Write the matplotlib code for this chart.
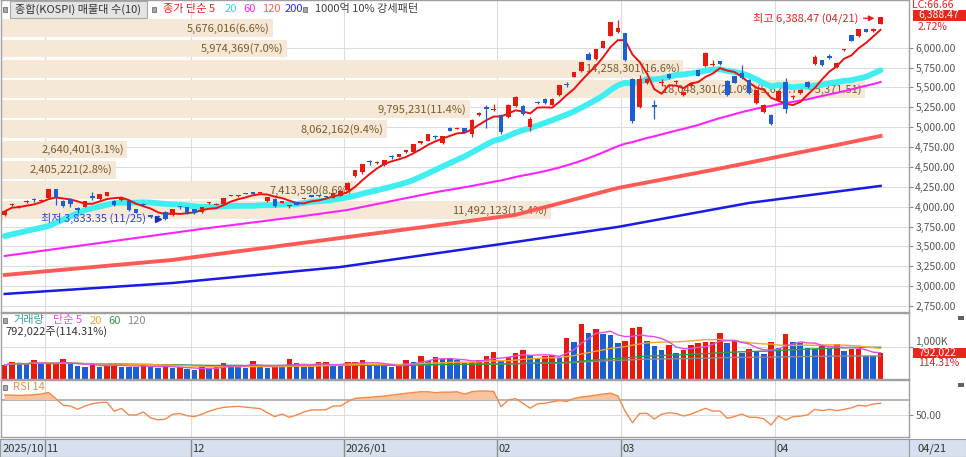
import numpy as np
import pandas as pd
import matplotlib
matplotlib.use("Agg")
import matplotlib.pyplot as plt
from matplotlib.patches import Rectangle

plt.rcParams['font.family'] = ['Noto Sans CJK KR', 'DejaVu Sans']

# ---------------- data ----------------
month_labels = ["2025/10", "11", "12", "2026/01", "02", "03", "04"]
month_start = [0, 6, 26, 47, 68, 85, 106]
last_date = "04/21"

opens = [3890, 4020, 4000, 4060, 4095, 4075, 4115, 4218, 4068, 4100,
         3980, 3995, 4125, 4092, 4135, 4068, 4080, 4068, 3965, 4035,
         3892, 3885, 3930, 3892, 4000, 3992, 3965, 3932, 4040, 4025,
         4030, 4138, 4130, 4170, 4170, 4172, 4070, 4100, 4045, 4003,
         4060, 4100, 4132, 4140, 4125, 4110, 4140, 4205, 4382, 4436,
         4565, 4548, 4521, 4628, 4630, 4685, 4690, 4795, 4828, 4880,
         4795, 4995, 4982, 4990, 4911, 5150, 5245, 5210, 5151, 5130,
         5268, 5268, 5005, 5312, 5360, 5285, 5403, 5530, 5633, 5705,
         5915, 5856, 5999, 6150, 6192, 6184, 5600, 5248, 5550, 5270,
         5555, 5675, 5568, 5403, 5516, 5718, 5768, 5778, 5831, 5585,
         5642, 5680, 5592, 5300, 5192, 5150, 5340, 5570, 5375, 5424,
         5570, 5793, 5844, 5894, 5752, 5968, 6159, 6146, 6230, 6215,
         6300]
highs = [3955, 4045, 4020, 4080, 4115, 4095, 4225, 4225, 4080, 4110,
         4000, 4075, 4185, 4160, 4190, 4080, 4110, 4075, 3975, 4050,
         3900, 3890, 3940, 3970, 4010, 4000, 3975, 4000, 4055, 4040,
         4110, 4150, 4145, 4178, 4178, 4185, 4125, 4110, 4075, 4020,
         4065, 4110, 4140, 4148, 4130, 4175, 4205, 4305, 4462, 4540,
         4590, 4575, 4590, 4650, 4665, 4715, 4790, 4832, 4912, 4905,
         4892, 5000, 5000, 4995, 5100, 5185, 5277, 5290, 5160, 5290,
         5390, 5275, 5125, 5330, 5365, 5365, 5535, 5565, 5692, 5820,
         5950, 5982, 6090, 6325, 6345, 6190, 5620, 5660, 5625, 5340,
         5600, 5680, 5590, 5450, 5565, 5725, 5940, 5840, 5835, 5590,
         5648, 5780, 5600, 5470, 5290, 5160, 5455, 5620, 5400, 5480,
         5580, 5910, 5850, 5920, 5815, 5985, 6165, 6235, 6235, 6245,
         6388.47]
lows = [3880, 4010, 3985, 4050, 4060, 4070, 4110, 4020, 3990, 4000,
        3915, 3990, 4080, 4085, 4130, 4010, 4075, 3950, 3915, 4010,
        3860, 3855, 3833.35, 3880, 3975, 3910, 3905, 3925, 4035, 4020,
        4025, 4130, 4125, 4158, 4160, 4168, 4065, 4000, 4040, 3985,
        4015, 4095, 4125, 4128, 4110, 4105, 4135, 4200, 4375, 4410,
        4530, 4540, 4515, 4600, 4625, 4680, 4685, 4790, 4822, 4850,
        4790, 4950, 4975, 4935, 4880, 5145, 4985, 5200, 4920, 5120,
        5260, 5150, 4950, 5295, 5295, 5280, 5398, 5500, 5628, 5700,
        5840, 5850, 5994, 6145, 6185, 5830, 5050, 5240, 5540, 5100,
        5520, 5610, 5540, 5398, 5510, 5640, 5760, 5770, 5785, 5395,
        5550, 5600, 5420, 5290, 5180, 5030, 5330, 5180, 5360, 5420,
        5495, 5788, 5775, 5860, 5748, 5955, 6080, 6140, 6195, 6200,
        6295]
closes = [3940, 4035, 4008, 4070, 4088, 4085, 4218, 4118, 4005, 4030,
          3962, 4068, 4115, 4155, 4180, 4018, 4105, 3955, 3925, 4025,
          3870, 3868, 3846.07, 3965, 3990, 3920, 3920, 3992, 4048, 4032,
          4105, 4145, 4138, 4162, 4165, 4178, 4120, 4005, 4070, 4008,
          4020, 4105, 4128, 4132, 4118, 4170, 4200, 4300, 4458, 4533,
          4560, 4552, 4584, 4622, 4660, 4710, 4785, 4828, 4908, 4875,
          4886, 4955, 4988, 4940, 5096, 5180, 5235, 5220, 4940, 5285,
          5381, 5160, 5100, 5308, 5300, 5360, 5529, 5527, 5688, 5815,
          5844, 5978, 6083, 6320, 6251, 5844, 5080, 5600, 5605, 5260,
          5560, 5615, 5572, 5445, 5558, 5646, 5936, 5784, 5790, 5403,
          5558, 5625, 5428, 5466, 5277, 5046, 5450, 5235, 5382, 5474,
          5500, 5878, 5781, 5865, 5810, 5972, 6087, 6230, 6200, 6219.3,
          6388.47]
# volume in thousand shares
volumes_k = [422, 505, 474, 443, 568, 443, 450, 455, 599, 443,
             391, 370, 453, 370, 422, 443, 372, 365, 360, 422,
             370, 318, 422, 318, 349, 286, 266, 349, 318, 349,
             495, 401, 398, 318, 547, 401, 318, 422, 349, 599,
             474, 370, 365, 505, 516, 401, 398, 526, 530, 578,
             422, 401, 398, 370, 391, 578, 526, 703, 557, 682,
             599, 595, 578, 474, 526, 578, 703, 839, 547, 661,
             787, 891, 734, 599, 703, 724, 682, 1255, 1151, 1693,
             1432, 1536, 1380, 1349, 1120, 1172, 1568, 1599, 1182, 1016,
             891, 1047, 787, 891, 1047, 1099, 1130, 1141, 1432, 1099,
             1172, 787, 911, 859, 755, 1130, 943, 1380, 1151, 1120,
             964, 911, 1026, 964, 1078, 870, 911, 922, 703, 692.87,
             792.022]
rsi14 = [76.7, 76.5, 76, 76.5, 77, 78, 80, 72, 63, 62,
         57.6, 62, 65, 66.5, 67, 55, 58.9, 50, 50, 54,
         46, 43.5, 44.5, 51, 52, 49, 48, 51, 55, 58,
         60.2, 61, 61.5, 60.5, 59.5, 58.5, 53, 47.8, 51.3, 46.9,
         50, 54, 56.7, 56.7, 57, 62, 62, 67.8, 72.2, 73,
         73.6, 74.5, 75.3, 76.5, 77.6, 79, 80, 81.1, 81, 79.8,
         80.5, 80.5, 81, 77.6, 81.1, 82, 82, 81.5, 61.1, 70,
         71.8, 65.6, 59, 65, 65.6, 67.5, 69.3, 68, 72, 74,
         75, 76.5, 78, 79.1, 75.6, 55, 39.8, 52, 52.2, 44.7,
         51, 53, 52, 48.7, 51, 55, 58.9, 55.3, 55.3, 45.5,
         48, 51.3, 47, 46.9, 45, 36.7, 48.7, 43.3, 47.8, 48.5,
         50, 57.6, 55.8, 57.6, 55.8, 57.5, 59.5, 63, 62, 64.7,
         65.6]

# moving-average values read from the chart where history is not available
ma20_head_idx = [0, 6, 11, 15]
ma20_head = [3631, 3757, 3958, 4046]
ma60_head_idx = [0, 14, 27, 41, 47]
ma60_head = [3380, 3556, 3720, 3883, 3959]
ma120_idx = [0, 23, 46, 70, 84, 97, 114, 120]
ma120_val = [3141, 3330, 3606, 3897, 4235, 4462, 4776, 4889]
ma200_idx = [0, 23, 46, 70, 84, 102, 120]
ma200_val = [2902, 3040, 3241, 3556, 3745, 4047, 4261]

# volume profile (매물대)
band_top = 6388.47
band_step = 254.24
band_volumes = [5676016, 5974369, 14258301, 18048301, 9795231,
                8062162, 2640401, 2405221, 7413590, 11492123]

price_ticks = list(range(2750, 6001, 250))
low_value, low_date = 3833.35, "11/25"
high_value, high_date = 6388.47, "04/21"
last_change_pct = 2.72
lc_value = 66.66

# ---------------- layout ----------------
W, H = 966, 457
fig = plt.figure(figsize=(W / 100, H / 100), dpi=100)
fig.patch.set_facecolor('white')


def fx(x):
    return x / W


def fy(y):
    return 1 - y / H


def axes_px(x0, y0, x1, y1):
    return fig.add_axes([fx(x0), fy(y1), (x1 - x0) / W, (y1 - y0) / H])


PL, PR = 1, 909
XL, XR = -0.51, 123.9
n = len(closes)
x = np.arange(n)
RED, BLUE = '#E8190F', '#1B5FD2'
GRID = '#DCDCDC'
SPINE = '#A0A0A0'

ax_p = axes_px(PL, 0, PR, 312)
ax_v = axes_px(PL, 313, PR, 379)
ax_r = axes_px(PL, 380, PR, 437)
ax_d = axes_px(0, 439, PR, 457)
ax_d2 = axes_px(PR, 439, W, 457)

for a in (ax_p, ax_v, ax_r):
    a.set_xlim(XL, XR)
    a.set_xticks([])
    a.yaxis.tick_right()
    a.tick_params(axis='y', length=3, color='#888888', pad=1.5,
                  labelsize=7.5, labelcolor='#555555')
    for s in a.spines.values():
        s.set_color(SPINE)
        s.set_linewidth(1)
    for m in month_start[1:]:
        a.axvline(m - 0.5, color=GRID, lw=0.8, zorder=0)

# ---------------- price panel ----------------
ax_p.set_ylim(2675, 6600)
ax_p.set_yticks(price_ticks)
ax_p.set_yticklabels([f"{t:,.2f}" for t in price_ticks])
for t in price_ticks:
    ax_p.axhline(t, color=GRID, lw=0.8, zorder=0)

total_band = sum(band_volumes)
vmax = max(band_volumes)
x_full = 117.85
for i, v in enumerate(band_volumes):
    hi = band_top - i * band_step
    lo = hi - band_step
    right = XL + (x_full - XL) * v / vmax
    ax_p.add_patch(Rectangle((XL, lo - 0.01 * band_step), right - XL,
                             0.88 * band_step, facecolor='#F6E8D6',
                             lw=0, zorder=1))
    label = f"{v:,}({v / total_band * 100:.1f}%)"
    if v == vmax:
        label += f"({hi:,.2f} ~ {lo:,.2f})"
    ax_p.text(right - 0.5, lo + 0.42 * band_step, label, ha='right',
              va='center', fontsize=8, color='#7A5A2A', zorder=2)

c = pd.Series(closes)
ma5 = c.rolling(5, min_periods=1).mean()
ma20 = c.rolling(20).mean()
ma60 = c.rolling(60).mean()

ax_p.plot(ma200_idx, ma200_val, color='#1A1AE6', lw=1.8, zorder=3)
ax_p.plot(ma120_idx, ma120_val, color='#FF5A55', lw=2.8, zorder=3)
ax_p.plot(ma60_head_idx + list(range(59, n)),
          ma60_head + list(ma60[59:]), color='#FF22FF', lw=1.5, zorder=3)
ax_p.plot(ma20_head_idx + list(range(19, n)),
          ma20_head + list(ma20[19:]), color='#40EEF2', lw=4.2, zorder=3,
          solid_capstyle='round')
ax_p.plot(x, ma5, color='#F01010', lw=1.4, zorder=3)

o = np.array(opens); h = np.array(highs); l = np.array(lows); cl = np.array(closes)
ccol = [RED if cc >= oo else BLUE for oo, cc in zip(o, cl)]
ax_p.vlines(x, l, h, colors=ccol, lw=0.9, zorder=4)
body_lo = np.minimum(o, cl)
body_h = np.maximum(np.abs(cl - o), 14)
ax_p.bar(x, body_h, bottom=body_lo, width=0.62, color=ccol, lw=0, zorder=4)

# lowest / highest annotations
ax_p.text(19.3, 3850, f"최저 {low_value:,.2f} ({low_date})", ha='right',
          va='center', fontsize=8, color='#2A3FE0', zorder=5)
ax_p.plot([21.0], [3850], marker='>', ms=5, color='#1A2FB0', zorder=5)
ax_p.text(116.9, 6370, f"최고 {high_value:,.2f} ({high_date})", ha='right',
          va='center', fontsize=8, color='#E82020', zorder=5)
ax_p.annotate('', xy=(119.55, 6370), xytext=(117.3, 6370),
              arrowprops=dict(arrowstyle='-|>', color='#E82020', lw=1,
                              mutation_scale=8), zorder=5)

# ---------------- volume panel ----------------
vol = pd.Series(volumes_k)
ax_v.set_ylim(-15.6, 2047)
ax_v.set_yticks([1000])
ax_v.set_yticklabels(["1,000K"])
for lab in ax_v.get_yticklabels():
    lab.set_verticalalignment('bottom')
ax_v.axhline(1000, color=GRID, lw=0.8, zorder=0)
vcol = [RED] + [RED if volumes_k[i] >= volumes_k[i - 1] else BLUE
                for i in range(1, n)]
ax_v.bar(x, vol, width=0.76, color=vcol, lw=0, zorder=2)
for w, col in [(120, '#8A8A8A'), (60, '#2E9B4A'), (20, '#F5A623'), (5, '#E050E0')]:
    ax_v.plot(x, vol.rolling(w, min_periods=1).mean(), color=col, lw=1.0, zorder=3)

# ---------------- RSI panel ----------------
r = np.array(rsi14)
ax_r.set_ylim(20.67, 96.67)
ax_r.set_yticks([50])
ax_r.set_yticklabels(["50.00"])
ax_r.axhline(50, color=GRID, lw=0.8, zorder=0)
ax_r.axhline(70, color='#A8A8A8', lw=1.2, zorder=1)
ax_r.fill_between(x, r, 70, where=r >= 70, interpolate=True,
                  color='#F7C4A0', lw=0, zorder=2)
ax_r.plot(x, r, color='#F5894A', lw=1.0, zorder=3)

# ---------------- date bar ----------------
for a in (ax_d, ax_d2):
    a.set_facecolor('#D6E0EE')
    a.set_xticks([]); a.set_yticks([])
    for s in a.spines.values():
        s.set_color('#9A9A9A')
ax_d.set_xlim(-4.7 / 7.3, XR)
ax_d.set_ylim(0, 1)
for lab, m in zip(month_labels, month_start):
    if m > 0:
        ax_d.axvline(m - 0.5, color='#8C8C8C', lw=1)
    ax_d.text(m - 0.5 + 0.2, 0.45, lab, ha='left', va='center',
              fontsize=8, color='#333333')
ax_d2.set_xlim(0, 1); ax_d2.set_ylim(0, 1)
ax_d2.text(0.15, 0.45, last_date, ha='left', va='center', fontsize=8,
           color='#333333')

# ---------------- legends / overlays ----------------
def square(xp, yp):
    fig.add_artist(Rectangle((fx(xp), fy(yp + 2.5)), 4 / W, 5 / H,
                             transform=fig.transFigure, facecolor='#A8A8A8',
                             edgecolor='#707070', lw=0.6))


def ftext(xp, yp, s, color, size=8, **kw):
    fig.text(fx(xp), fy(yp), s, color=color, fontsize=size, va='center',
             ha=kw.pop('ha', 'left'), **kw)


square(3, 9)
fig.add_artist(Rectangle((fx(10), fy(17.5)), 137 / W, 16 / H,
                         transform=fig.transFigure, facecolor='#E4E4E4',
                         edgecolor='#A8A8A8', lw=0.8))
ftext(15, 9, "종합(KOSPI) 매물대 수(10)", '#333333')
square(152, 9)
ftext(163, 9, "종가 단순 5", '#F02020')
ftext(225, 9, "20", '#22DDE6')
ftext(243, 9, "60", '#FF22FF')
ftext(262, 9, "120", '#FF5A55')
ftext(285, 9, "200", '#2A2AFF')
square(303, 9)
ftext(315, 9, "1000억 10% 강세패턴", '#404040')

square(3, 320.5)
ftext(13, 320.5, "거래량", '#3AA0A0')
ftext(53, 320.5, "단순 5", '#E050E0')
ftext(90, 320.5, "20", '#F5A623')
ftext(108, 320.5, "60", '#2E9B4A')
ftext(127, 320.5, "120", '#8A8A8A')
v_last = volumes_k[-1]
v_pct = volumes_k[-1] / volumes_k[-2] * 100
ftext(5, 332, f"{round(v_last * 1000):,}주({v_pct:.2f}%)", '#333333')

square(3, 387)
ftext(13, 387, "RSI 14", '#F08A4B')

# right-side value boxes
ftext(912, 5, f"LC:{lc_value:.2f}", '#E82020', size=7.5)
fig.add_artist(Rectangle((fx(913), fy(21)), 53 / W, 11.5 / H,
                         transform=fig.transFigure, facecolor='#E8261C', lw=0))
ftext(918, 15.3, f"{closes[-1]:,.2f}", 'white', size=7.5)
ftext(918, 26.5, f"{last_change_pct:.2f}%", '#E82020', size=7.5)
fig.add_artist(Rectangle((fx(913), fy(358)), 53 / W, 10.5 / H,
                         transform=fig.transFigure, facecolor='#E8261C', lw=0))
ftext(918, 352.8, f"{round(v_last * 1000):,}", 'white', size=7.5)
ftext(918, 363.5, f"{v_pct:.2f}%", '#E82020', size=7.5)
for yy in (316, 383):
    fig.add_artist(Rectangle((fx(958), fy(yy + 4)), 6 / W, 4 / H,
                             transform=fig.transFigure, facecolor='#606060', lw=0))

fig.savefig("out.png", dpi=100, facecolor='white')
